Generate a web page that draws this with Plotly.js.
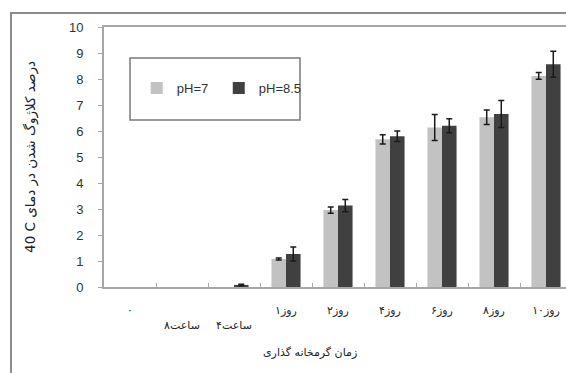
<!DOCTYPE html>
<html>
<head>
<meta charset="utf-8">
<script src="https://cdn.plot.ly/plotly-3.0.1.min.js"></script>
<style>
html,body{margin:0;padding:0;background:#fff;overflow:hidden;width:566px;height:373px;}
#frame{position:absolute;left:10px;top:12px;width:700px;height:500px;border-left:2px solid #8a8a8a;border-top:2px solid #8a8a8a;z-index:5;pointer-events:none;}
#chart{position:absolute;left:0;top:0;width:600px;height:390px;}
</style>
</head>
<body>
<div id="frame"></div>
<div id="chart"></div>
<script>
// Categories (incubation time)
var categories = ["۰", "ساعت۴", "ساعت۸", "روز۱", "روز۲", "روز۴", "روز۶", "روز۸", "روز۱۰"];
var tickLabels = ["۰", " <br>ساعت۸", " <br>ساعت۴", "روز۱", "روز۲", "روز۴", "روز۶", "روز۸", "روز۱۰"];
// Series values (NaN = no error bar)
var ph7 = [0, 0, 0, 1.08, 2.96, 5.68, 6.13, 6.53, 8.12];
var ph7Err = [NaN, NaN, NaN, 0.04, 0.12, 0.18, 0.5, 0.28, 0.13];
var ph85 = [0, 0, 0.08, 1.27, 3.13, 5.8, 6.2, 6.65, 8.57];
var ph85Err = [NaN, NaN, 0.03, 0.27, 0.24, 0.2, 0.27, 0.52, 0.5];
var seriesNames = ["pH=7", "pH=8.5"];

var traces = [
  {
    type: "bar", name: seriesNames[0], x: categories, y: ph7,
    marker: {color: "#c2c2c2", line: {color: "#b0b0b0", width: 0}},
    error_y: {type: "data", array: ph7Err, visible: true, color: "#1a1a1a", thickness: 1.5, width: 3}
  },
  {
    type: "bar", name: seriesNames[1], x: categories, y: ph85,
    marker: {color: "#404040", line: {color: "#303030", width: 0}},
    error_y: {type: "data", array: ph85Err, visible: true, color: "#1a1a1a", thickness: 1.5, width: 3}
  }
];

var layout = {
  width: 600, height: 390,
  margin: {l: 104, r: 28, t: 27, b: 103},
  paper_bgcolor: "rgba(0,0,0,0)",
  plot_bgcolor: "#fff",
  barmode: "group",
  bargap: 0.44,
  bargroupgap: 0,
  showlegend: true,
  font: {family: "DejaVu Sans, Liberation Sans, Arial", color: "#222", size: 11},
  legend: {
    orientation: "h", x: 0.07, y: 0.765, xanchor: "left", yanchor: "middle",
    bgcolor: "rgba(0,0,0,0)", borderwidth: 0,
    font: {family: "Liberation Sans, Arial", size: 13, color: "#333"},
    entrywidth: 37, entrywidthmode: "pixels", itemwidth: 30
  },
  xaxis: {
    type: "category",
    tickmode: "array", tickvals: categories, ticktext: tickLabels,
    showline: true, linecolor: "#a6a6a6", linewidth: 2, mirror: true,
    ticks: "inside", tickson: "boundaries", ticklen: 4, tickcolor: "#a6a6a6",
    tickfont: {family: "DejaVu Sans", size: 11, color: "#222"},
    ticklabelstandoff: 12,
    showgrid: false, zeroline: false, fixedrange: true
  },
  yaxis: {
    range: [0, 10], dtick: 1, tick0: 0,
    showline: true, linecolor: "#a6a6a6", linewidth: 2,
    ticks: "outside", ticklen: 4, tickcolor: "#a6a6a6",
    tickfont: {family: "Liberation Sans, Arial", size: 13, color: "#333"},
    ticklabelstandoff: 12,
    showgrid: false, zeroline: false,
    title: {text: "40 C درصد کلاژوگ شدن در دمای", standoff: 30, font: {family: "DejaVu Sans", size: 13.5, color: "#222"}}
  },
  shapes: [
    {type: "rect", xref: "paper", yref: "paper", x0: 0.0556, x1: 0.4188, y0: 0.642, y1: 0.8808,
     line: {color: "#7a7a7a", width: 1.5}, fillcolor: "rgba(0,0,0,0)"}
  ],
  annotations: [
    {text: "زمان گرمخانه گذاری", xref: "paper", yref: "paper", x: 0.44, y: -0.25,
     showarrow: false, xanchor: "center", yanchor: "middle",
     font: {family: "DejaVu Sans", size: 11, color: "#222"}}
  ]
};

Plotly.newPlot("chart", traces, layout, {staticPlot: true, displayModeBar: false});
</script>
</body>
</html>
